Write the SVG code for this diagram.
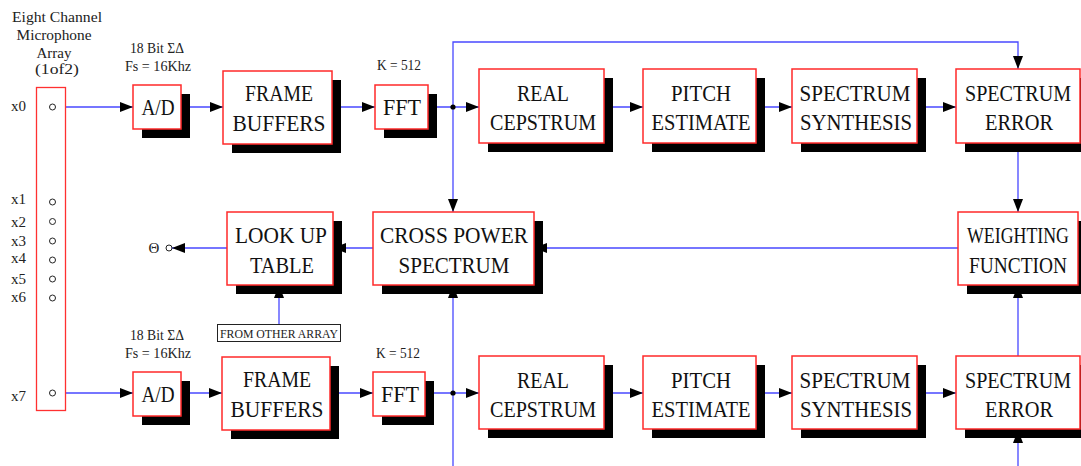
<svg xmlns="http://www.w3.org/2000/svg" width="1081" height="466" viewBox="0 0 1081 466">
<style>
.box{fill:#fff;stroke:#ff2a2a;stroke-width:1.5}
.sh{fill:#000}
.t{font-family:"Liberation Serif",serif;font-size:23px;fill:#111;text-anchor:middle}
.s{font-family:"Liberation Serif",serif;font-size:14px;fill:#222;text-anchor:middle}
.ln{fill:none;stroke:#4848ff;stroke-width:1.3}
.pin{fill:#fff;stroke:#222;stroke-width:1}
</style>
<defs>
<marker id="ah" markerUnits="userSpaceOnUse" markerWidth="13" markerHeight="10" refX="13" refY="5" orient="auto">
<path d="M0,0 L13,5 L0,10 z" fill="#000"/>
</marker>
</defs>

<g id="labels">
<text class="s" x="57" y="22" textLength="90" lengthAdjust="spacingAndGlyphs">Eight Channel</text>
<text class="s" x="54" y="40" textLength="75" lengthAdjust="spacingAndGlyphs">Microphone</text>
<text class="s" x="54" y="58" textLength="35" lengthAdjust="spacingAndGlyphs">Array</text>
<text class="s" x="57" y="74" textLength="44" lengthAdjust="spacingAndGlyphs">(1of2)</text>
<text class="s" x="157" y="53" textLength="54" lengthAdjust="spacingAndGlyphs">18 Bit ΣΔ</text>
<text class="s" x="158" y="71" textLength="66" lengthAdjust="spacingAndGlyphs">Fs = 16Khz</text>
<text class="s" x="399" y="70" textLength="44" lengthAdjust="spacingAndGlyphs">K = 512</text>
<text class="s" x="157" y="340" textLength="54" lengthAdjust="spacingAndGlyphs">18 Bit ΣΔ</text>
<text class="s" x="158" y="358" textLength="66" lengthAdjust="spacingAndGlyphs">Fs = 16Khz</text>
<text class="s" x="398" y="358" textLength="44" lengthAdjust="spacingAndGlyphs">K = 512</text>
<text class="s" x="154" y="253" style="font-size:15px">Θ</text>
</g>

<g id="connectors">
<line class="ln" x1="66" y1="107" x2="133" y2="107" marker-end="url(#ah)"/>
<line class="ln" x1="181" y1="107" x2="223" y2="107" marker-end="url(#ah)"/>
<line class="ln" x1="332" y1="107" x2="375" y2="107" marker-end="url(#ah)"/>
<line class="ln" x1="428" y1="107" x2="479" y2="107" marker-end="url(#ah)"/>
<line class="ln" x1="604" y1="107" x2="643" y2="107" marker-end="url(#ah)"/>
<line class="ln" x1="756" y1="107" x2="792" y2="107" marker-end="url(#ah)"/>
<line class="ln" x1="917" y1="107" x2="956" y2="107" marker-end="url(#ah)"/>
<polyline class="ln" points="453,107 453,42 1018,42 1018,69" marker-end="url(#ah)"/>
<line class="ln" x1="453" y1="107" x2="453" y2="212" marker-end="url(#ah)"/>
<line class="ln" x1="1018" y1="143" x2="1018" y2="212" marker-end="url(#ah)"/>
<line class="ln" x1="958" y1="248" x2="534" y2="248" marker-end="url(#ah)"/>
<line class="ln" x1="373" y1="248" x2="333" y2="248" marker-end="url(#ah)"/>
<line class="ln" x1="227" y1="248" x2="172" y2="248" marker-end="url(#ah)"/>
<line class="ln" x1="279" y1="324" x2="279" y2="285" marker-end="url(#ah)"/>
<line class="ln" x1="66" y1="393" x2="133" y2="393" marker-end="url(#ah)"/>
<line class="ln" x1="181" y1="393" x2="222" y2="393" marker-end="url(#ah)"/>
<line class="ln" x1="330" y1="393" x2="373" y2="393" marker-end="url(#ah)"/>
<line class="ln" x1="425" y1="393" x2="479" y2="393" marker-end="url(#ah)"/>
<line class="ln" x1="453" y1="466" x2="453" y2="285" marker-end="url(#ah)"/>
<line class="ln" x1="604" y1="393" x2="643" y2="393" marker-end="url(#ah)"/>
<line class="ln" x1="756" y1="393" x2="792" y2="393" marker-end="url(#ah)"/>
<line class="ln" x1="917" y1="393" x2="956" y2="393" marker-end="url(#ah)"/>
<line class="ln" x1="1018" y1="356" x2="1018" y2="285" marker-end="url(#ah)"/>
<line class="ln" x1="1018" y1="466" x2="1018" y2="430" marker-end="url(#ah)"/>
<circle cx="453" cy="107" r="2.6" fill="#000"/>
<circle cx="453" cy="393" r="2.6" fill="#000"/>
<circle cx="169" cy="248" r="3" class="pin"/>
</g>

<g id="array">
<rect x="36.5" y="87.5" width="29" height="323" fill="#fff" stroke="#ff3030" stroke-width="1.3"/>
<circle class="pin" cx="52.5" cy="107" r="3"/>
<circle class="pin" cx="52.5" cy="202" r="3"/>
<circle class="pin" cx="52.5" cy="221.5" r="3"/>
<circle class="pin" cx="52.5" cy="241" r="3"/>
<circle class="pin" cx="52.5" cy="260" r="3"/>
<circle class="pin" cx="52.5" cy="279" r="3"/>
<circle class="pin" cx="52.5" cy="298" r="3"/>
<circle class="pin" cx="52.5" cy="393" r="3"/>
<g class="s" style="text-anchor:start;font-size:15px">
<text x="11" y="111" textLength="15" lengthAdjust="spacingAndGlyphs">x0</text>
<text x="11" y="204" textLength="15" lengthAdjust="spacingAndGlyphs">x1</text>
<text x="11" y="227" textLength="15" lengthAdjust="spacingAndGlyphs">x2</text>
<text x="11" y="246" textLength="15" lengthAdjust="spacingAndGlyphs">x3</text>
<text x="11" y="263" textLength="15" lengthAdjust="spacingAndGlyphs">x4</text>
<text x="11" y="284" textLength="15" lengthAdjust="spacingAndGlyphs">x5</text>
<text x="11" y="302" textLength="15" lengthAdjust="spacingAndGlyphs">x6</text>
<text x="11" y="401" textLength="15" lengthAdjust="spacingAndGlyphs">x7</text>
</g>
</g>

<g id="ad1"><rect class="sh" x="142" y="94" width="48" height="44"/><rect class="box" x="133" y="85" width="48" height="44"/><text class="t" x="158" y="115" textLength="33" lengthAdjust="spacingAndGlyphs">A/D</text></g>
<g id="fb1"><rect class="sh" x="232" y="80" width="109" height="73"/><rect class="box" x="223" y="71" width="109" height="73"/><text class="t" x="279" y="101" textLength="68" lengthAdjust="spacingAndGlyphs">FRAME</text><text class="t" x="279" y="131" textLength="93" lengthAdjust="spacingAndGlyphs">BUFFERS</text></g>
<g id="fft1"><rect class="sh" x="384" y="94" width="53" height="44"/><rect class="box" x="375" y="85" width="53" height="44"/><text class="t" x="402" y="115" textLength="38" lengthAdjust="spacingAndGlyphs">FFT</text></g>
<g id="rc1"><rect class="sh" x="488" y="78" width="125" height="74"/><rect class="box" x="479" y="69" width="125" height="74"/><text class="t" x="543" y="101" textLength="52" lengthAdjust="spacingAndGlyphs">REAL</text><text class="t" x="543" y="130" textLength="106" lengthAdjust="spacingAndGlyphs">CEPSTRUM</text></g>
<g id="pe1"><rect class="sh" x="652" y="78" width="113" height="74"/><rect class="box" x="643" y="69" width="113" height="74"/><text class="t" x="701" y="101" textLength="60" lengthAdjust="spacingAndGlyphs">PITCH</text><text class="t" x="701" y="130" textLength="99" lengthAdjust="spacingAndGlyphs">ESTIMATE</text></g>
<g id="ss1"><rect class="sh" x="801" y="78" width="125" height="74"/><rect class="box" x="792" y="69" width="125" height="74"/><text class="t" x="855" y="101" textLength="111" lengthAdjust="spacingAndGlyphs">SPECTRUM</text><text class="t" x="856" y="130" textLength="112" lengthAdjust="spacingAndGlyphs">SYNTHESIS</text></g>
<g id="se1"><rect class="sh" x="965" y="78" width="116" height="74"/><rect class="box" x="956" y="69" width="124" height="74"/><text class="t" x="1018" y="101" textLength="106" lengthAdjust="spacingAndGlyphs">SPECTRUM</text><text class="t" x="1019" y="130" textLength="68" lengthAdjust="spacingAndGlyphs">ERROR</text></g>

<g id="lut"><rect class="sh" x="236" y="221" width="106" height="73"/><rect class="box" x="227" y="212" width="106" height="73"/><text class="t" x="281" y="243" textLength="92" lengthAdjust="spacingAndGlyphs">LOOK UP</text><text class="t" x="282" y="273" textLength="64" lengthAdjust="spacingAndGlyphs">TABLE</text></g>
<g id="cps"><rect class="sh" x="382" y="221" width="161" height="73"/><rect class="box" x="373" y="212" width="161" height="73"/><text class="t" x="454" y="243" textLength="148" lengthAdjust="spacingAndGlyphs">CROSS POWER</text><text class="t" x="454" y="273" textLength="111" lengthAdjust="spacingAndGlyphs">SPECTRUM</text></g>
<g id="wf"><rect class="sh" x="967" y="221" width="114" height="73"/><rect class="box" x="958" y="212" width="120" height="73"/><text class="t" x="1018" y="243" textLength="102" lengthAdjust="spacingAndGlyphs">WEIGHTING</text><text class="t" x="1018" y="273" textLength="98" lengthAdjust="spacingAndGlyphs">FUNCTION</text></g>
<g id="other"><rect x="217.5" y="324.5" width="123" height="17" fill="#fff" stroke="#222" stroke-width="1"/><text class="s" x="279" y="338" textLength="118" lengthAdjust="spacingAndGlyphs" style="font-size:12px">FROM OTHER ARRAY</text></g>

<g id="ad2"><rect class="sh" x="142" y="381" width="48" height="44"/><rect class="box" x="133" y="372" width="48" height="44"/><text class="t" x="158" y="402" textLength="33" lengthAdjust="spacingAndGlyphs">A/D</text></g>
<g id="fb2"><rect class="sh" x="231" y="366" width="108" height="73"/><rect class="box" x="222" y="357" width="108" height="73"/><text class="t" x="277" y="387" textLength="68" lengthAdjust="spacingAndGlyphs">FRAME</text><text class="t" x="277" y="417" textLength="93" lengthAdjust="spacingAndGlyphs">BUFFERS</text></g>
<g id="fft2"><rect class="sh" x="382" y="381" width="52" height="44"/><rect class="box" x="373" y="372" width="52" height="44"/><text class="t" x="400" y="402" textLength="38" lengthAdjust="spacingAndGlyphs">FFT</text></g>
<g id="rc2"><rect class="sh" x="488" y="365" width="125" height="73"/><rect class="box" x="479" y="356" width="125" height="73"/><text class="t" x="543" y="388" textLength="52" lengthAdjust="spacingAndGlyphs">REAL</text><text class="t" x="543" y="417" textLength="106" lengthAdjust="spacingAndGlyphs">CEPSTRUM</text></g>
<g id="pe2"><rect class="sh" x="652" y="365" width="113" height="73"/><rect class="box" x="643" y="356" width="113" height="73"/><text class="t" x="701" y="388" textLength="60" lengthAdjust="spacingAndGlyphs">PITCH</text><text class="t" x="701" y="417" textLength="99" lengthAdjust="spacingAndGlyphs">ESTIMATE</text></g>
<g id="ss2"><rect class="sh" x="801" y="365" width="125" height="73"/><rect class="box" x="792" y="356" width="125" height="73"/><text class="t" x="855" y="388" textLength="111" lengthAdjust="spacingAndGlyphs">SPECTRUM</text><text class="t" x="856" y="417" textLength="112" lengthAdjust="spacingAndGlyphs">SYNTHESIS</text></g>
<g id="se2"><rect class="sh" x="965" y="365" width="116" height="73"/><rect class="box" x="956" y="356" width="124" height="73"/><text class="t" x="1018" y="388" textLength="106" lengthAdjust="spacingAndGlyphs">SPECTRUM</text><text class="t" x="1019" y="417" textLength="68" lengthAdjust="spacingAndGlyphs">ERROR</text></g>
</svg>
